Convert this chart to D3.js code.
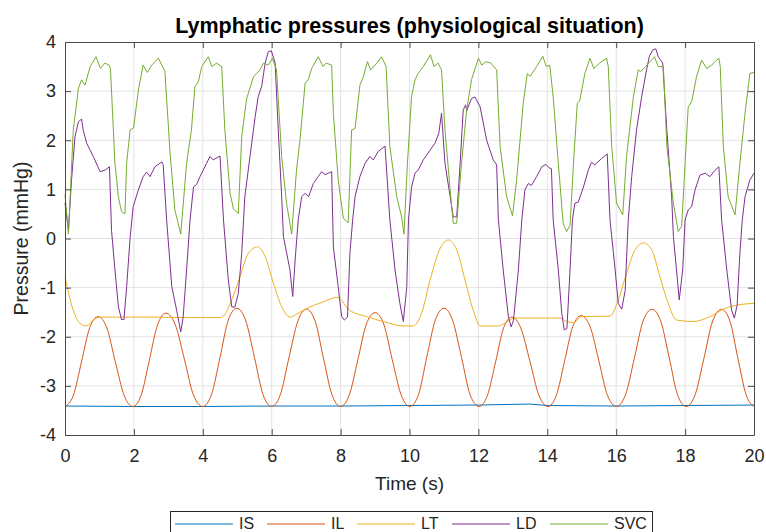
<!doctype html>
<html>
<head>
	<meta charset="utf-8">
	<script src="https://d3js.org/d3.v7.min.js"></script>
	<style>
		body { margin: 0; background: #fff; }
		text { font-family: "Liberation Sans", Arial, sans-serif; fill: #262626; }
	</style>
</head>
<body>
	<div id="viz">
		<svg style="width:766px;height:532px;display:block;"></svg>
	</div>
	<script>
		// series as [time (s), pressure (mmHg)]
		var isData = [[0,-3.41],[2,-3.42],[4,-3.42],[6,-3.41],[8,-3.41],[10,-3.40],[12,-3.39],[13.5,-3.37],[14,-3.40],[16,-3.41],[18,-3.40],[20,-3.39]];

		var ilData = [
			[0,-3.42],[0.24,-3.20],[0.48,-2.51],[0.72,-1.81],[0.96,-1.59],[1.21,-1.81],[1.46,-2.51],[1.72,-3.20],[1.97,-3.42],
			[2.21,-3.19],[2.45,-2.47],[2.69,-1.75],[2.93,-1.52],[3.2,-1.75],[3.47,-2.47],[3.73,-3.19],[4.0,-3.42],
			[4.25,-3.18],[4.5,-2.42],[4.74,-1.66],[4.99,-1.42],[5.24,-1.66],[5.5,-2.42],[5.75,-3.18],[6.0,-3.42],
			[6.25,-3.18],[6.5,-2.43],[6.76,-1.68],[7.01,-1.44],[7.26,-1.68],[7.5,-2.43],[7.75,-3.18],[8.0,-3.42],
			[8.25,-3.19],[8.5,-2.47],[8.75,-1.74],[9.0,-1.51],[9.25,-1.74],[9.5,-2.47],[9.76,-3.19],[10.01,-3.42],
			[10.26,-3.18],[10.5,-2.42],[10.75,-1.66],[11.0,-1.42],[11.25,-1.66],[11.51,-2.42],[11.76,-3.18],[12.02,-3.42],
			[12.26,-3.20],[12.5,-2.51],[12.73,-1.82],[12.97,-1.60],[13.23,-1.82],[13.5,-2.51],[13.76,-3.20],[14.02,-3.42],
			[14.26,-3.20],[14.5,-2.50],[14.74,-1.79],[14.98,-1.57],[15.24,-1.79],[15.5,-2.50],[15.75,-3.20],[16.01,-3.42],
			[16.27,-3.18],[16.53,-2.43],[16.78,-1.68],[17.04,-1.44],[17.29,-1.68],[17.54,-2.43],[17.78,-3.18],[18.03,-3.42],
			[18.29,-3.18],[18.55,-2.43],[18.8,-1.68],[19.06,-1.44],[19.3,-1.68],[19.53,-2.43],[19.77,-3.18],[20,-3.42]
		];

		var ltData = [
			[0,-0.78],[0.24,-1.46],[0.44,-1.73],[0.63,-1.78],[0.82,-1.66],[1.02,-1.60],[1.5,-1.60],[2.5,-1.60],[3.5,-1.61],[4.5,-1.61],
			[4.6,-1.58],[4.84,-1.25],[5.08,-0.78],[5.32,-0.30],[5.59,-0.17],[5.81,-0.37],[6.05,-0.91],[6.29,-1.39],[6.53,-1.60],
			[6.72,-1.54],[6.97,-1.44],[7.5,-1.29],[7.89,-1.20],[7.98,-1.22],[8.22,-1.44],[8.76,-1.59],[9.24,-1.69],[9.82,-1.78],
			[10.11,-1.78],[10.35,-1.52],[10.6,-0.84],[10.89,-0.20],[11.13,-0.03],[11.37,-0.23],[11.61,-0.84],[11.85,-1.46],[12.05,-1.78],
			[12.58,-1.78],[12.82,-1.70],[13.06,-1.62],[14.37,-1.62],[14.56,-1.69],[14.76,-1.71],[15.0,-1.59],[15.82,-1.58],
			[16.06,-1.25],[16.3,-0.71],[16.55,-0.23],[16.79,-0.09],[17.03,-0.23],[17.27,-0.78],[17.51,-1.32],[17.75,-1.66],
			[18.24,-1.69],[18.72,-1.59],[19.11,-1.44],[19.4,-1.37],[20,-1.32]
		];

		var ldData = [
			[0,0.72],[0.1,0.17],[0.19,1.19],[0.29,2.07],[0.39,2.38],[0.48,2.43],[0.53,2.2],[0.63,1.94],[0.82,1.67],[1.02,1.36],[1.16,1.39],[1.29,1.46],
			[1.35,0.17],[1.45,-0.64],[1.55,-1.39],[1.64,-1.65],[1.71,-1.65],[1.79,-0.98],[1.89,0.02],[1.98,0.65],[2.13,0.99],[2.27,1.26],[2.37,1.35],
			[2.47,1.26],[2.61,1.46],[2.81,1.56],[2.85,1.5],[2.95,0.38],[3.1,-0.98],[3.24,-1.46],[3.36,-1.9],[3.43,-1.6],[3.53,-0.64],[3.63,0.38],
			[3.73,1.05],[3.82,1.1],[3.92,1.26],[4.11,1.53],[4.21,1.67],[4.3,1.6],[4.5,1.68],[4.6,0.38],[4.74,-0.84],[4.84,-1.39],[4.93,-1.4],
			[5.03,-1.12],[5.13,-0.3],[5.22,0.85],[5.37,1.67],[5.52,2.48],[5.61,2.89],[5.71,3.1],[5.81,3.57],[5.9,3.8],[5.99,3.82],[6.1,3.57],
			[6.19,2.21],[6.29,0.85],[6.34,0.04],[6.53,-0.64],[6.61,-1.18],[6.68,-0.44],[6.77,0.38],[6.87,0.85],[6.97,0.92],[7.07,0.85],[7.21,1.12],
			[7.35,1.26],[7.45,1.36],[7.55,1.3],[7.74,1.36],[7.79,-0.17],[7.93,-0.98],[8.03,-1.59],[8.11,-1.66],[8.2,-1.6],[8.27,-0.3],[8.35,0.38],
			[8.42,0.85],[8.56,1.26],[8.71,1.53],[8.85,1.67],[8.95,1.6],[9.09,1.77],[9.29,1.88],[9.43,0.38],[9.58,-0.64],[9.72,-1.32],[9.82,-1.69],
			[9.92,-1.0],[9.97,0.38],[10.06,1.05],[10.16,1.33],[10.25,1.39],[10.4,1.6],[10.6,1.8],[10.74,1.94],[10.85,2.14],[10.93,2.55],[11.03,1.53],
			[11.18,0.85],[11.27,0.44],[11.37,0.44],[11.47,1.53],[11.56,2.62],[11.63,2.72],[11.66,2.6],[11.8,2.85],[11.9,2.88],[12.05,2.68],[12.24,2.0],
			[12.43,1.6],[12.53,1.5],[12.58,0.38],[12.72,-0.64],[12.87,-1.59],[12.95,-1.8],[13.02,-1.66],[13.16,-0.64],[13.26,0.38],[13.35,0.99],
			[13.45,1.12],[13.54,1.08],[13.69,1.26],[13.84,1.46],[13.96,1.51],[14.05,1.44],[14.12,1.42],[14.17,0.38],[14.32,-0.64],[14.42,-1.52],
			[14.49,-1.86],[14.57,-1.83],[14.66,-0.64],[14.73,0.38],[14.8,0.72],[14.9,0.74],[15.05,1.05],[15.19,1.39],[15.28,1.55],[15.38,1.5],
			[15.58,1.63],[15.74,1.72],[15.82,0.38],[15.97,-0.64],[16.06,-1.32],[16.16,-1.44],[16.26,-1.06],[16.35,0.38],[16.45,1.26],[16.59,2.21],
			[16.74,2.89],[16.86,3.36],[16.96,3.7],[17.06,3.84],[17.15,3.86],[17.22,3.7],[17.35,3.57],[17.47,2.21],[17.61,0.85],[17.66,0.04],
			[17.75,-0.64],[17.83,-1.25],[17.93,-0.64],[18.0,0.38],[18.09,0.58],[18.19,0.65],[18.29,0.99],[18.43,1.29],[18.58,1.33],[18.72,1.26],
			[18.87,1.39],[18.98,1.46],[19.06,0.38],[19.21,-0.64],[19.35,-1.46],[19.43,-1.62],[19.51,-1.36],[19.59,-0.3],[19.66,0.38],[19.74,0.85],
			[19.88,1.19],[20,1.33]
		];

		var svcData = [
			[0,0.9],[0.1,0.09],[0.24,2.21],[0.39,3.06],[0.48,3.23],[0.58,3.12],[0.73,3.5],[0.9,3.7],[1.03,3.46],[1.16,3.57],[1.28,3.53],[1.32,3.45],
			[1.45,1.53],[1.55,0.85],[1.64,0.55],[1.74,0.5],[1.79,1.54],[1.89,2.21],[1.99,2.25],[2.13,3.02],[2.27,3.53],[2.39,3.38],[2.52,3.53],
			[2.71,3.67],[2.81,3.53],[2.9,3.4],[3.05,1.74],[3.19,0.58],[3.36,0.09],[3.53,1.53],[3.67,2.21],[3.77,3.09],[3.87,3.19],[3.97,3.5],
			[4.16,3.7],[4.26,3.5],[4.4,3.57],[4.55,3.5],[4.64,2.21],[4.79,0.93],[4.89,0.6],[5.03,0.51],[5.13,2.07],[5.27,2.84],[5.47,3.29],
			[5.66,3.43],[5.76,3.57],[5.9,3.53],[6.02,3.67],[6.14,3.43],[6.29,1.67],[6.43,0.72],[6.58,0.09],[6.72,1.39],[6.82,2.0],[6.97,3.16],
			[7.06,3.23],[7.16,3.46],[7.35,3.7],[7.49,3.5],[7.58,3.57],[7.74,3.53],[7.79,2.55],[7.93,1.19],[8.08,0.41],[8.22,0.32],[8.32,2.21],
			[8.42,2.24],[8.56,3.12],[8.66,3.29],[8.78,3.6],[8.87,3.43],[9.05,3.57],[9.19,3.7],[9.32,3.5],[9.43,1.87],[9.63,0.85],[9.77,0.44],
			[9.84,0.09],[9.94,1.53],[10.06,2.89],[10.16,3.23],[10.25,3.36],[10.4,3.5],[10.61,3.74],[10.71,3.5],[10.83,3.57],[10.93,3.43],
			[11.03,2.21],[11.18,0.99],[11.27,0.31],[11.37,0.31],[11.51,1.53],[11.66,2.62],[11.8,3.23],[12.0,3.67],[12.1,3.53],[12.22,3.6],
			[12.36,3.57],[12.53,3.43],[12.63,1.87],[12.82,0.85],[12.99,0.46],[13.11,1.19],[13.3,2.75],[13.42,3.36],[13.5,3.3],[13.69,3.5],
			[13.87,3.71],[13.97,3.5],[14.07,3.53],[14.17,2.89],[14.32,1.53],[14.46,0.31],[14.56,0.14],[14.66,0.27],[14.76,1.53],[14.87,2.75],
			[14.94,2.8],[15.09,3.36],[15.24,3.67],[15.35,3.46],[15.52,3.57],[15.72,3.67],[15.77,3.5],[15.87,1.87],[16.01,0.72],[16.19,0.48],
			[16.3,1.67],[16.5,2.89],[16.64,3.43],[16.71,3.4],[16.86,3.5],[17.11,3.7],[17.22,3.5],[17.37,3.5],[17.47,1.87],[17.66,0.72],[17.8,0.14],
			[17.9,0.25],[18.0,1.53],[18.09,2.68],[18.19,2.78],[18.33,3.29],[18.48,3.63],[18.63,3.46],[18.77,3.53],[18.98,3.67],[19.02,3.5],
			[19.11,1.87],[19.25,0.85],[19.45,0.48],[19.59,1.53],[19.74,2.55],[19.88,3.36],[20,3.38]
		];

		var seriesNames = ["IS", "IL", "LT", "LD", "SVC"];
		var seriesColors = ["#0072BD", "#D95319", "#EDB120", "#7E2F8E", "#77AC30"];
		var xTicks = [0, 2, 4, 6, 8, 10, 12, 14, 16, 18, 20];
		var yTicks = [-4, -3, -2, -1, 0, 1, 2, 3, 4];

		dataViz()
		function dataViz() {
			var margin = {top: 42, right: 12, bottom: 97, left: 65};
			var width = 766 - margin.left - margin.right;
			var height = 532 - margin.top - margin.bottom;
			var svg = d3.select("svg");

			var xScale = d3.scaleLinear().domain([0, 20]).range([margin.left, margin.left + width]);
			var yScale = d3.scaleLinear().domain([-4, 4]).range([margin.top + height, margin.top]);

			// grid
			svg.append("g").selectAll("line").data(xTicks.slice(1, -1)).enter().append("line")
				.attr("x1", d => xScale(d)).attr("x2", d => xScale(d))
				.attr("y1", margin.top).attr("y2", margin.top + height)
				.attr("stroke", "#e3e3e3").attr("stroke-width", 1);
			svg.append("g").selectAll("line").data(yTicks.slice(1, -1)).enter().append("line")
				.attr("y1", d => yScale(d)).attr("y2", d => yScale(d))
				.attr("x1", margin.left).attr("x2", margin.left + width)
				.attr("stroke", "#e3e3e3").attr("stroke-width", 1);

			// lines
			var allSeries = [isData, ilData, ltData, ldData, svcData];
			var smooth = [false, true, true, false, false];
			svg.append("g").selectAll("path").data(allSeries).enter().append("path")
				.attr("fill", "none")
				.attr("stroke", (d, i) => seriesColors[i])
				.attr("stroke-width", 1)
				.attr("stroke-linejoin", "round")
				.attr("d", (d, i) => d3.line()
					.x(p => xScale(p[0])).y(p => yScale(p[1]))
					.curve(smooth[i] ? d3.curveMonotoneX : d3.curveLinear)(d));

			// axes (matlab box style, ticks inside)
			var xAxis = d3.axisBottom(xScale).tickValues(xTicks).tickSizeInner(-6).tickSizeOuter(0).tickPadding(14).tickFormat(d => String(d));
			var yAxis = d3.axisLeft(yScale).tickValues(yTicks).tickSizeInner(-6).tickSizeOuter(0).tickPadding(9).tickFormat(d => String(d));
			var xTop = d3.axisTop(xScale).tickValues(xTicks).tickSizeInner(-6).tickSizeOuter(0).tickFormat("");
			var yRight = d3.axisRight(yScale).tickValues(yTicks).tickSizeInner(-6).tickSizeOuter(0).tickFormat("");

			svg.append("g").attr("transform", "translate(0," + (margin.top + height) + ")").call(xAxis);
			svg.append("g").attr("transform", "translate(" + margin.left + ",0)").call(yAxis);
			svg.append("g").attr("transform", "translate(0," + margin.top + ")").call(xTop);
			svg.append("g").attr("transform", "translate(" + (margin.left + width) + ",0)").call(yRight);

			svg.selectAll(".domain").attr("stroke", "#4a4a4a");
			svg.selectAll(".tick line").attr("stroke", "#4a4a4a");
			svg.selectAll(".tick text").attr("font-size", "18px").attr("fill", "#262626")
				.style("font-family", "'Liberation Sans', Arial, sans-serif");

			// titles
			svg.append("text").attr("x", margin.left + width / 2).attr("y", 33)
				.attr("text-anchor", "middle").attr("font-size", "21.5px").attr("font-weight", "bold")
				.style("fill", "#000").text("Lymphatic pressures (physiological situation)");
			svg.append("text").attr("x", margin.left + width / 2).attr("y", 490)
				.attr("text-anchor", "middle").attr("font-size", "19px").text("Time (s)");
			svg.append("text").attr("transform", "translate(28," + (margin.top + height / 2) + ") rotate(-90)")
				.attr("text-anchor", "middle").attr("font-size", "19.5px").text("Pressure (mmHg)");

			// legend
			var legend = svg.append("g");
			legend.append("rect").attr("x", 170.5).attr("y", 511.5).attr("width", 482).attr("height", 40)
				.attr("fill", "#fff").attr("stroke", "#262626").attr("stroke-width", 1);
			var legendX = [175, 267, 357, 452, 550];
			var items = legend.selectAll("g.item").data(seriesNames).enter().append("g")
				.attr("transform", (d, i) => "translate(" + legendX[i] + ",0)");
			items.append("line").attr("x1", 0).attr("x2", 58).attr("y1", 524).attr("y2", 524)
				.attr("stroke", (d, i) => seriesColors[i]).attr("stroke-width", 1);
			items.append("text").attr("x", 64).attr("y", 529).attr("font-size", "16px").text(d => d);
		}
	</script>
</body>
</html>
